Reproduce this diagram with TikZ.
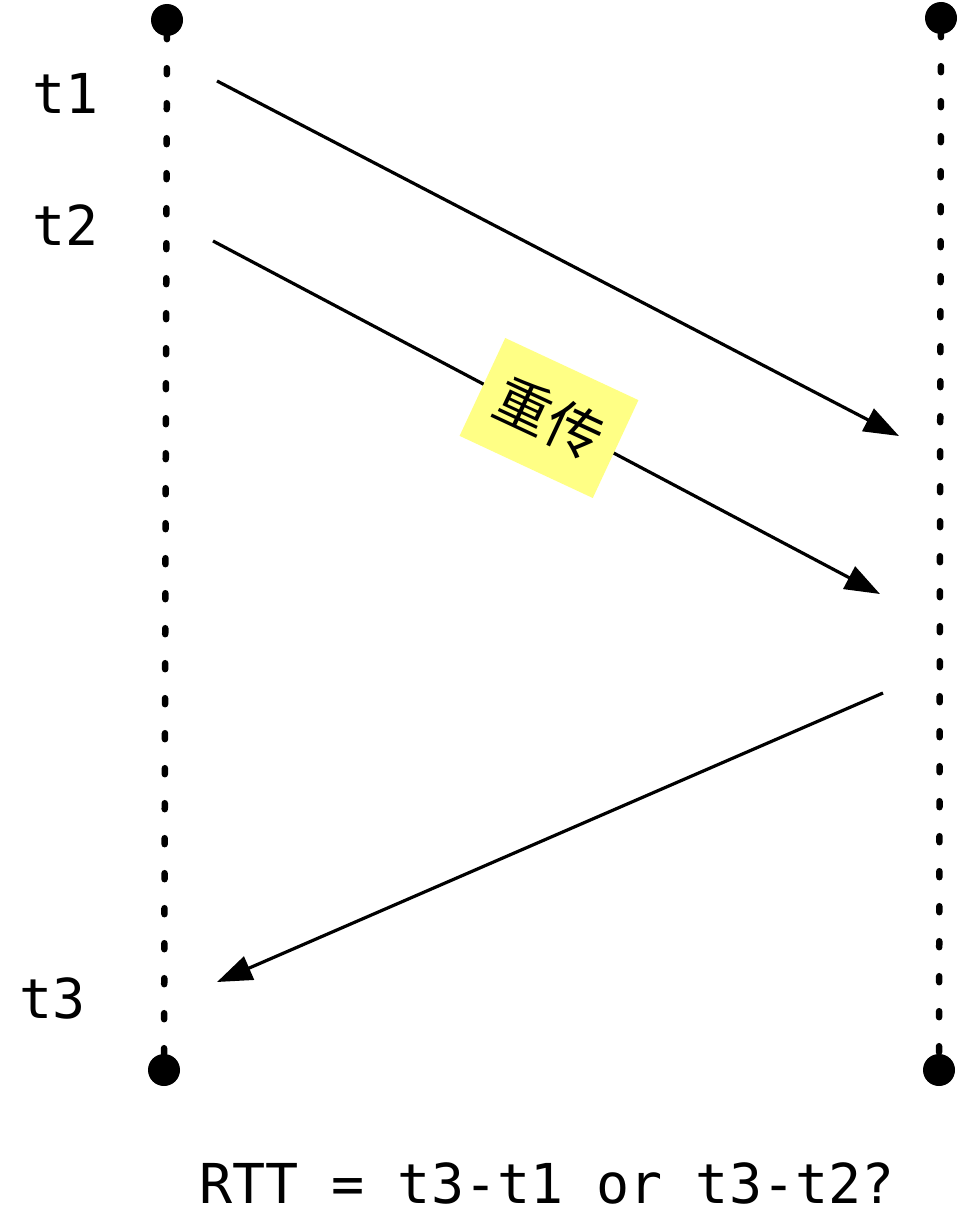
\documentclass[tikz,border=0pt]{standalone}
\usepackage{fontspec}
\setmonofont{DejaVu Sans Mono}
\newfontfamily\cjk{Noto Sans CJK SC}
\usetikzlibrary{arrows.meta, positioning}
\definecolor{notefill}{RGB}{255,255,133}

\begin{document}
\begin{tikzpicture}[x=1pt, y=-1pt,
    endpt/.style={circle, fill=black, inner sep=0pt, minimum size=32pt},
    life/.style={line width=6.5pt, line cap=round, dash pattern=on 6pt off 29pt, dash phase=3pt},
    msg/.style={line width=3.2pt, -{Triangle[length=35pt, width=25pt]}},
    tlabel/.style={font=\ttfamily\fontsize{55}{60}\selectfont, anchor=base},
    note/.style={fill=notefill, rotate=-25, minimum width=147pt, minimum height=108pt,
                 inner sep=0pt, font=\cjk\fontsize{56}{56}\selectfont}
]
    \useasboundingbox (0,0) rectangle (960,1231);

    % Lifelines
    \node[endpt] (ltop) at (167,20) {};
    \node[endpt] (lbot) at (164,1070) {};
    \node[endpt] (rtop) at (941,18) {};
    \node[endpt] (rbot) at (939,1070) {};
    \draw[life] (ltop) -- (lbot);
    \draw[life] (rtop) -- (rbot);

    % Time labels
    \node[tlabel] (t1) at (66,113) {t1};
    \node[tlabel] (t2) at (66,245) {t2};
    \node[tlabel] (t3) at (53,1018) {t3};

    % Messages
    \coordinate (send1) at (217,81);
    \coordinate (recv1) at (899,436);
    \coordinate (send2) at (213,241);
    \coordinate (recv2) at (880,594);
    \coordinate (ack) at (883,693);
    \coordinate (back) at (217,982);
    \draw[msg] (send1) -- (recv1);
    \draw[msg] (send2) -- (recv2);
    \draw[msg] (ack) -- (back);

    % Retransmit note
    \node[note] (resend) at (549,418) {重传};

    % Question
    \node[tlabel] (rtt) at (547,1203) {RTT = t3-t1 or t3-t2?};
\end{tikzpicture}
\end{document}
